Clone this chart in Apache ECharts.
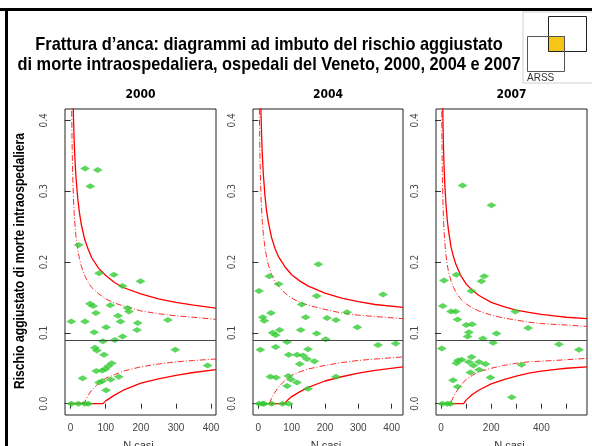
<!DOCTYPE html>
<html><head><meta charset="utf-8">
<script src="https://cdn.jsdelivr.net/npm/echarts@6/dist/echarts.min.js"></script>
<style>html,body{margin:0;padding:0;background:#fff}#c{width:592px;height:446px}</style>
</head><body><div id="c"></div>
<script>
// ---- Data ----
const years = ['2000', '2004', '2007'];
const refRate = [0.091, 0.093, 0.086];
const xRanges = [[-16, 414], [-16, 434], [-20, 582]];
const xTicks = [[0,100,200,300,400],[0,100,200,300,400],[0,100,200,300,400,500]];
const xTickLabels = [[0,100,200,300,400],[0,100,200,300,400],[0,200,400]];
const yTicks = [0, 0.1, 0.2, 0.3, 0.4];

const n2000 = [41,77,56,23,81,123,199,148,55,64,113,162,166,72,135,2,41,142,191,277,101,189,67,148,126,92,69,75,95,298,117,107,99,90,73,390,34,114,137,90,81,101,2,22,40,50];
const r2000 = [0.332,0.330,0.307,0.224,0.184,0.182,0.173,0.166,0.141,0.138,0.139,0.135,0.130,0.128,0.124,0.116,0.116,0.116,0.114,0.118,0.108,0.104,0.101,0.095,0.090,0.088,0.079,0.075,0.069,0.076,0.057,0.053,0.049,0.047,0.046,0.054,0.036,0.034,0.038,0.032,0.030,0.019,0,0,0,0];

const n2004 = [180,33,61,2,175,374,130,38,266,13,18,142,206,233,297,64,43,52,127,175,202,6,86,52,149,359,412,91,116,134,146,168,124,36,53,90,98,116,233,86,149,2,13,17,40,73,91];
const r2004 = [0.197,0.180,0.169,0.159,0.152,0.154,0.140,0.128,0.129,0.122,0.117,0.122,0.121,0.118,0.108,0.104,0.100,0.097,0.104,0.099,0.091,0.076,0.087,0.080,0.077,0.083,0.085,0.069,0.069,0.068,0.063,0.060,0.056,0.038,0.037,0.039,0.034,0.030,0.038,0.025,0.021,0,0,0,0,0,0];

const n2007 = [86,201,61,172,12,161,121,7,40,58,296,66,101,124,347,111,106,167,221,208,3,470,550,82,68,61,122,111,151,177,129,152,117,321,197,48,66,282,5,25,37];
const r2007 = [0.308,0.280,0.182,0.180,0.174,0.173,0.159,0.138,0.130,0.130,0.130,0.119,0.111,0.112,0.107,0.101,0.095,0.092,0.099,0.086,0.078,0.084,0.076,0.062,0.061,0.057,0.066,0.059,0.059,0.056,0.054,0.048,0.044,0.055,0.037,0.033,0.024,0.009,0,0,0];

// funnel limits
const upN2000 = [2,3,4,5,6,8,10,12,15,20,25,30,40,50,60,80,100,125,150,200,250,300,350,414];
const up998_2000 = [0.722,0.606,0.537,0.490,0.455,0.406,0.373,0.349,0.321,0.291,0.270,0.254,0.232,0.218,0.206,0.191,0.181,0.171,0.164,0.155,0.148,0.143,0.139,0.135];
const up95_2000 = [0.491,0.418,0.374,0.344,0.322,0.291,0.270,0.255,0.237,0.218,0.205,0.195,0.181,0.171,0.164,0.155,0.148,0.142,0.138,0.131,0.127,0.124,0.122,0.119];
const lo998N2000 = [0,92,100,125,150,200,250,300,350,414];
const lo998_2000 = [0,0,0.004,0.012,0.019,0.029,0.035,0.040,0.044,0.048];
const lo95N2000 = [0,40,50,60,80,100,125,150,200,250,300,350,414];
const lo95_2000 = [0,0.002,0.012,0.019,0.029,0.036,0.041,0.046,0.052,0.056,0.059,0.061,0.063];

const upN2004 = [2,3,4,5,6,8,10,12,15,20,25,30,40,50,60,80,100,125,150,200,250,300,350,434];
const up998_2004 = [0.727,0.611,0.540,0.493,0.458,0.409,0.376,0.351,0.324,0.293,0.271,0.256,0.234,0.219,0.208,0.193,0.182,0.173,0.166,0.156,0.149,0.144,0.140,0.136];
const up95_2004 = [0.494,0.420,0.377,0.347,0.324,0.293,0.272,0.256,0.239,0.220,0.206,0.196,0.182,0.173,0.166,0.156,0.149,0.143,0.139,0.133,0.128,0.125,0.123,0.120];
const lo998N2004 = [0,78,90,100,125,150,200,250,300,350,434];
const lo998_2004 = [0,0,0.006,0.010,0.017,0.023,0.032,0.038,0.043,0.047,0.052];
const lo95N2004 = [0,33,40,50,60,80,100,125,150,200,250,300,350,434];
const lo95_2004 = [0,0,0.008,0.016,0.023,0.033,0.040,0.045,0.049,0.054,0.058,0.061,0.063,0.066];

const upN2007 = [2,3,4,5,6,8,10,12,15,20,25,30,40,50,60,80,100,125,150,200,250,300,350,400,450,500,582];
const up998_2007 = [0.699,0.586,0.519,0.473,0.440,0.392,0.360,0.336,0.310,0.280,0.259,0.244,0.221,0.207,0.196,0.180,0.169,0.160,0.153,0.143,0.137,0.132,0.129,0.126,0.124,0.122,0.120];
const up95_2007 = [0.475,0.403,0.361,0.332,0.310,0.280,0.260,0.245,0.228,0.209,0.196,0.186,0.173,0.164,0.157,0.147,0.141,0.135,0.131,0.125,0.121,0.118,0.115,0.113,0.112,0.111,0.109];
const lo998N2007 = [0,90,100,125,150,200,250,300,350,400,450,500,582];
const lo998_2007 = [0,0,0.005,0.013,0.019,0.028,0.034,0.039,0.043,0.046,0.048,0.050,0.052];
const lo95N2007 = [0,37,50,60,80,100,125,150,200,250,300,350,400,450,500,582];
const lo95_2007 = [0,0,0.010,0.016,0.027,0.034,0.040,0.045,0.050,0.054,0.057,0.059,0.060,0.061,0.062,0.064];

const titleLines = ['Frattura d\u2019anca: diagrammi ad imbuto del rischio aggiustato', 'di morte intraospedaliera, ospedali del Veneto, 2000, 2004 e 2007'];
const yTitle = 'Rischio aggiustato di morte intraospedaliera';

// ---- build ----
const zip = (a, b) => a.map((v, i) => [v, b[i]]);
const panels = [
  {pts: zip(n2000, r2000), u1: zip(upN2000, up998_2000), u2: zip(upN2000, up95_2000), l1: zip(lo998N2000, lo998_2000), l2: zip(lo95N2000, lo95_2000)},
  {pts: zip(n2004, r2004), u1: zip(upN2004, up998_2004), u2: zip(upN2004, up95_2004), l1: zip(lo998N2004, lo998_2004), l2: zip(lo95N2004, lo95_2004)},
  {pts: zip(n2007, r2007), u1: zip(upN2007, up998_2007), u2: zip(upN2007, up95_2007), l1: zip(lo998N2007, lo998_2007), l2: zip(lo95N2007, lo95_2007)}
];
const gridPos = [{left: 65, width: 151}, {left: 253, width: 150}, {left: 436, width: 151}];
const TOP = 109, H = 306;
const sans = "'Liberation Sans',Arial,sans-serif";
const cond = "'DejaVu Sans Condensed','Liberation Sans',sans-serif";

// measure text to condense (narrow font look)
const mctx = document.createElement('canvas').getContext('2d');
function widthOf(text, font) { mctx.font = font; return mctx.measureText(text).width; }
const titleFont = 'bold 19px ' + sans;
const titleScale = 503 / widthOf(titleLines[1], titleFont);
const yTitleFont = 'bold 14px ' + sans;
const yTitleScale = 256 / widthOf(yTitle, yTitleFont);

const grid = gridPos.map(g => ({left: g.left, width: g.width, top: TOP, height: H, show: true, borderColor: '#222', borderWidth: 1, backgroundColor: '#fff'}));
const xAxis = gridPos.map((g, i) => ({
  type: 'value', gridIndex: i, min: xRanges[i][0], max: xRanges[i][1],
  axisLine: {show: false}, splitLine: {show: false},
  axisTick: {show: true, inside: false, length: 5, customValues: xTicks[i], lineStyle: {color: '#333'}},
  axisLabel: {customValues: xTickLabels[i], color: '#444', fontFamily: sans, fontSize: 10, margin: 8}
}));
const yAxis = gridPos.map((g, i) => ({
  type: 'value', gridIndex: i, min: -0.016, max: 0.416,
  axisLine: {show: false}, splitLine: {show: false},
  axisTick: {show: true, inside: false, length: 6, customValues: yTicks, lineStyle: {color: '#333'}},
  axisLabel: {customValues: yTicks, rotate: 90, color: '#444', fontFamily: cond, fontSize: 10, margin: 16,
    formatter: v => v.toFixed(1)}
}));
const series = [];
panels.forEach((p, i) => {
  const solid = {color: '#ff0000', width: 1.3, type: 'solid'};
  const dash = {color: '#ff2a2a', width: 1, type: [6, 2, 1, 2]};
  [['u1', solid], ['u2', dash], ['l2', dash], ['l1', solid]].forEach(([k, st]) => {
    series.push({type: 'line', xAxisIndex: i, yAxisIndex: i, data: p[k], symbol: 'none', smooth: false,
      clip: true, lineStyle: st, silent: true, z: 2});
  });
  series.push({type: 'scatter', xAxisIndex: i, yAxisIndex: i, data: p.pts, symbol: 'diamond', symbolSize: [10, 6],
    itemStyle: {color: '#33cc33'}, z: 3,
    markLine: {silent: true, symbol: 'none', label: {show: false}, data: [{yAxis: refRate[i]}],
      lineStyle: {color: '#444', width: 1, type: 'solid'}}});
});

const graphic = [
  {type: 'rect', shape: {x: 0, y: 8, width: 592, height: 3}, style: {fill: '#000'}},
  {type: 'rect', shape: {x: 5, y: 8, width: 3, height: 440}, style: {fill: '#000'}},
  {type: 'text', x: 269, y: 55, scaleX: titleScale, style: {text: titleLines.join('\n'),
    font: titleFont, fill: '#000', textAlign: 'center', textVerticalAlign: 'middle', lineHeight: 20}},
  // logo
  {type: 'rect', shape: {x: 523, y: 12, width: 72, height: 71}, style: {fill: '#fff', stroke: '#cfcfcf', lineWidth: 1}},
  {type: 'rect', shape: {x: 548, y: 36, width: 17, height: 16}, style: {fill: '#f5c518'}},
  {type: 'rect', shape: {x: 548.5, y: 16.5, width: 38, height: 35}, style: {fill: 'none', stroke: '#222', lineWidth: 1}},
  {type: 'rect', shape: {x: 527.5, y: 36.5, width: 37, height: 35}, style: {fill: 'none', stroke: '#555', lineWidth: 1}},
  {type: 'text', x: 527, y: 78, style: {text: 'ARSS', font: '10px ' + sans, fill: '#333', textVerticalAlign: 'middle'}},
  // y axis title
  {type: 'text', x: 20, y: 261, rotation: Math.PI / 2, scaleX: yTitleScale, style: {text: yTitle,
    font: yTitleFont, fill: '#000', textAlign: 'center', textVerticalAlign: 'middle'}}
];
gridPos.forEach((g, i) => {
  graphic.push({type: 'text', x: g.left + g.width / 2, y: 95, style: {text: years[i], font: 'bold 12px ' + cond, fill: '#000', textAlign: 'center', textVerticalAlign: 'middle'}});
  graphic.push({type: 'text', x: g.left + g.width / 2 - 2, y: 440, style: {text: 'N casi', font: '11px ' + sans, fill: '#333', textAlign: 'center', textVerticalAlign: 'top'}});
});

const chart = echarts.init(document.getElementById('c'), null, {renderer: 'canvas'});
chart.setOption({animation: false, backgroundColor: '#fff', grid, xAxis, yAxis, series, graphic});
</script></body></html>
